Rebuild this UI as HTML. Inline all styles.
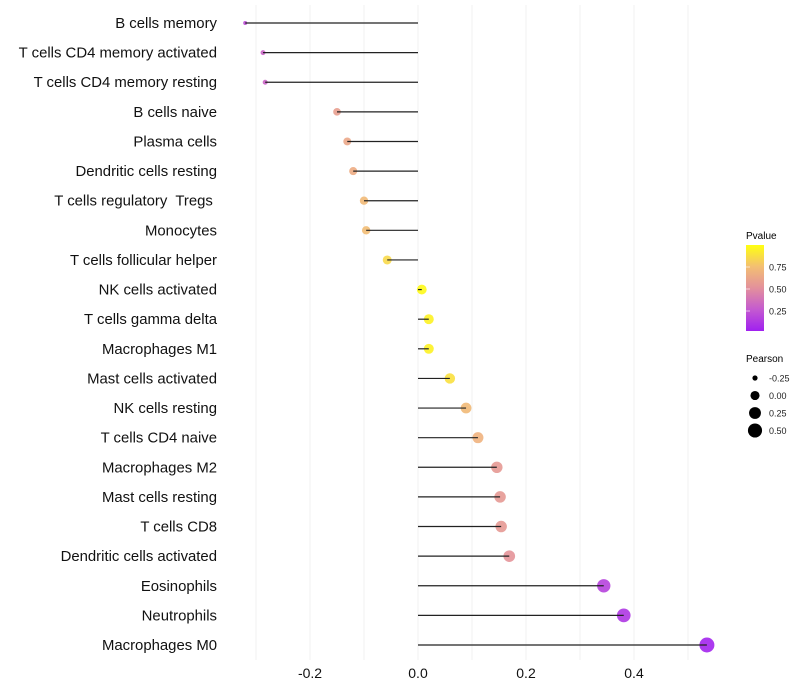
<!DOCTYPE html>
<html><head><meta charset="utf-8"><style>
body{margin:0;background:#fff;font-family:"Liberation Sans",sans-serif}
svg{display:block}
text{white-space:pre}
</style></head><body>
<svg id="chart" width="800" height="700" viewBox="0 0 800 700" xml:space="preserve">
<defs><linearGradient id="pg" x1="0" y1="1" x2="0" y2="0">
<stop offset="0" stop-color="#a020f0"/><stop offset="0.25" stop-color="#c45ad0"/><stop offset="0.5" stop-color="#e3909c"/><stop offset="0.75" stop-color="#f3bf72"/><stop offset="1" stop-color="#ffff10"/></linearGradient></defs>
<g id="grid"></g>
<g id="marks"></g>
<g id="ylab"></g>
<g id="xlab"></g>
<g>
<text x="746" y="239" font-size="10" fill="#000">Pvalue</text>
<rect x="746" y="245" width="18" height="86" fill="url(#pg)"/>
<g id="cbticks"></g>
</g>
<g id="sizeleg">
<text x="746" y="362" font-size="10" fill="#000">Pearson</text>
</g>
</svg>
<script>
const categories=["B cells memory","T cells CD4 memory activated","T cells CD4 memory resting","B cells naive","Plasma cells","Dendritic cells resting","T cells regulatory  Tregs ","Monocytes","T cells follicular helper","NK cells activated","T cells gamma delta","Macrophages M1","Mast cells activated","NK cells resting","T cells CD4 naive","Macrophages M2","Mast cells resting","T cells CD8","Dendritic cells activated","Eosinophils","Neutrophils","Macrophages M0"];
const pearson=[-0.32,-0.287,-0.283,-0.15,-0.131,-0.12,-0.1,-0.096,-0.057,0.007,0.02,0.02,0.059,0.089,0.111,0.146,0.152,0.154,0.169,0.344,0.381,0.535];
const pvalue=[0.2,0.3,0.3,0.58,0.62,0.65,0.72,0.74,0.85,0.98,0.95,0.95,0.88,0.72,0.68,0.55,0.55,0.55,0.52,0.15,0.1,0.02];
const xTicks=[-0.2,0,0.2,0.4];
const xTickLabels=["-0.2","0.0","0.2","0.4"];
const minorGrid=[-0.3,-0.1,0.1,0.3,0.5];
const pTicks=[0.25,0.5,0.75];
const sizeBreaks=[-0.25,0,0.25,0.5];
const NS="http://www.w3.org/2000/svg";
const X=v=>418+v*540;
const Y=i=>23+i*(622/21);
const R=v=>Math.sqrt(Math.max(1,23.6+61.1*v));
function col(p){const st=[[0,[160,32,240]],[0.25,[196,90,208]],[0.5,[227,144,156]],[0.75,[243,191,114]],[1,[255,255,16]]];
for(let i=0;i<st.length-1;i++){if(p<=st[i+1][0]){const t=(p-st[i][0])/(st[i+1][0]-st[i][0]);const c=st[i][1].map((a,k)=>Math.round(a+(st[i+1][1][k]-a)*t));return`rgb(${c})`;}}return"rgb(255,255,16)";}
function mk(tag,attrs,parent){const e=document.createElementNS(NS,tag);for(const k in attrs)e.setAttribute(k,attrs[k]);parent.appendChild(e);return e;}
const grid=document.getElementById('grid'),marks=document.getElementById('marks'),ylab=document.getElementById('ylab'),xlab=document.getElementById('xlab');
xTicks.concat(minorGrid).forEach(v=>{const l=mk('line',{x1:X(v),x2:X(v),y1:5,y2:660,stroke:'#f0f0f0','stroke-width':1},grid);

});
xTicks.forEach((v,i)=>{const t=mk('text',{x:X(v),y:678,'text-anchor':'middle','font-size':14,fill:'#111'},xlab);t.textContent=xTickLabels[i];

});
categories.forEach((c,i)=>{const y=Y(i);
const t=mk('text',{x:217,y:y+5,'text-anchor':'end','font-size':14.9,fill:'#111'},ylab);t.textContent=c;


const ci=mk('circle',{cx:X(pearson[i]),cy:y,r:R(pearson[i]),fill:col(pvalue[i]),'fill-opacity':0.9},marks);


const l=mk('line',{x1:X(0),x2:X(pearson[i]),y1:y,y2:y,stroke:'#222','stroke-width':1.2},marks);

});
const cb=document.getElementById('cbticks');
pTicks.forEach(p=>{const y=333-p*88;
const t=mk('text',{x:769,y:y+3.5,'font-size':9,fill:'#222'},cb);t.textContent=p.toFixed(2);


const l=mk('line',{x1:746,x2:750,y1:y,y2:y,stroke:'#fff','stroke-opacity':0.6},cb);

});
const sl=document.getElementById('sizeleg');
sizeBreaks.forEach((v,i)=>{const y=378+i*17.5;
const c=mk('circle',{cx:755,cy:y,r:R(v)-0.3,fill:'#000'},sl);


const t=mk('text',{x:769,y:y+3.5,'font-size':9,fill:'#222'},sl);t.textContent=v.toFixed(2);

});
</script>
</body></html>
